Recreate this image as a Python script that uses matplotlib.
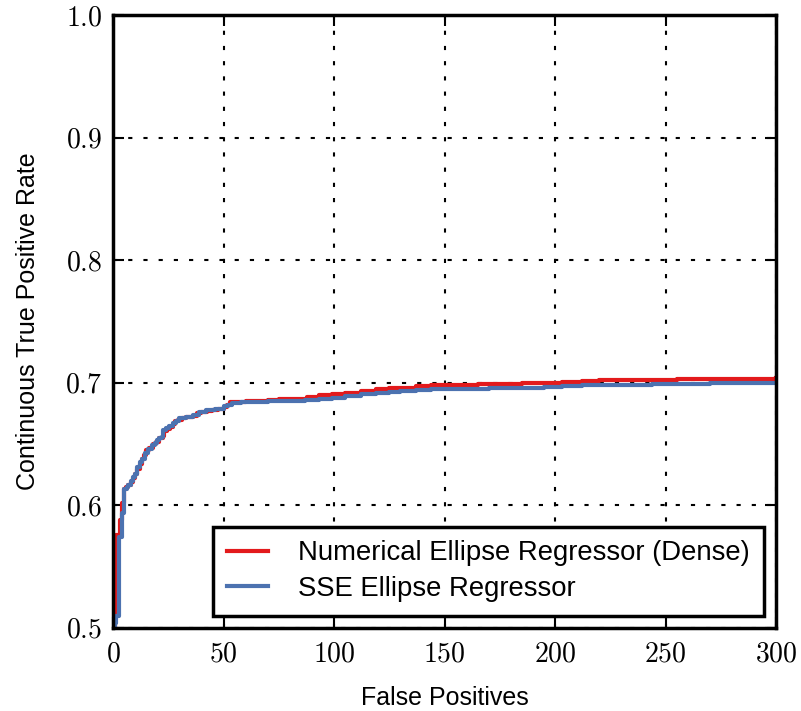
import matplotlib
matplotlib.use('Agg')
import matplotlib.pyplot as plt

plt.rcParams['mathtext.fontset'] = 'cm'
plt.rcParams['font.family'] = ['Liberation Sans', 'DejaVu Sans']

# Numerical Ellipse Regressor (Dense)
fp_dense = [0, 1.0, 1.5, 3, 4, 5, 6, 7, 8, 9, 10, 11, 12, 13, 14, 15, 16.5, 18,
            19.5, 21, 22.5, 23, 24.5, 26, 27, 28, 29.5, 31, 33, 36, 38, 40, 42.5,
            45, 47.5, 50, 51.5, 53, 56, 60, 65, 70, 75, 80, 88, 93, 99, 105, 112,
            119, 125, 130, 137, 144, 150, 158, 165, 175, 185, 195, 203, 212, 220,
            230, 244, 255, 270, 285, 300]
tpr_dense = [0.500, 0.524, 0.576, 0.588, 0.602, 0.613, 0.615, 0.617, 0.619, 0.622,
             0.626, 0.630, 0.634, 0.638, 0.641, 0.645, 0.647, 0.650, 0.652, 0.655,
             0.657, 0.661, 0.662, 0.664, 0.666, 0.669, 0.670, 0.671, 0.672, 0.673,
             0.675, 0.676, 0.677, 0.678, 0.679, 0.680, 0.682, 0.684, 0.6845, 0.685,
             0.6855, 0.686, 0.6865, 0.687, 0.6885, 0.690, 0.6905, 0.6915, 0.6932,
             0.6948, 0.6955, 0.696, 0.697, 0.6979, 0.6982, 0.6985, 0.6988, 0.699,
             0.6995, 0.700, 0.7008, 0.7018, 0.702, 0.7022, 0.7025, 0.7028, 0.7032,
             0.7035, 0.7038]

# SSE Ellipse Regressor
fp_sse = [0, 0.7, 1.5, 2.7, 4, 5, 6.2, 7, 8, 9, 10, 11, 12, 13, 14.5, 16, 17.5, 19,
          20, 21, 22, 22.8, 24, 25.5, 27, 28.5, 30, 33, 36, 39, 42, 46, 50, 52, 54,
          58, 62, 70, 80, 87, 93, 99, 105, 112, 119, 125, 130, 137, 144, 155, 170,
          183, 195, 203, 212, 225, 235, 244, 258, 270, 285, 300]
tpr_sse = [0.500, 0.504, 0.510, 0.5745, 0.594, 0.613, 0.615, 0.617, 0.620, 0.623,
           0.626, 0.631, 0.635, 0.638, 0.643, 0.646, 0.649, 0.651, 0.653, 0.655,
           0.656, 0.6615, 0.663, 0.665, 0.667, 0.669, 0.671, 0.672, 0.6737, 0.676,
           0.678, 0.679, 0.681, 0.682, 0.6835, 0.684, 0.6845, 0.685, 0.6855, 0.686,
           0.6871, 0.688, 0.689, 0.6905, 0.6917, 0.6925, 0.693, 0.694, 0.6948,
           0.6952, 0.6955, 0.696, 0.6963, 0.697, 0.6979, 0.6982, 0.6985, 0.6988,
           0.6992, 0.6995, 0.6998, 0.7002]

x_ticks = [0, 50, 100, 150, 200, 250, 300]
y_ticks = [0.5, 0.6, 0.7, 0.8, 0.9, 1.0]

fig = plt.figure(figsize=(8.01, 7.11), dpi=100)
ax = fig.add_axes([113 / 801, 83 / 711, 663 / 801, 613 / 711])

ax.plot(fp_dense, tpr_dense, drawstyle='steps-post', color='#e31a1c', lw=3,
        label='Numerical Ellipse Regressor (Dense)')
ax.plot(fp_sse, tpr_sse, drawstyle='steps-post', color='#4c72b0', lw=3,
        label='SSE Ellipse Regressor')

ax.set_xlim(0, 300)
ax.set_ylim(0.5, 1.0)
ax.set_xticks(x_ticks)
ax.set_yticks(y_ticks)
ax.set_xticklabels(['$%d$' % v for v in x_ticks], fontsize=20)
ax.set_yticklabels(['$%.1f$' % v for v in y_ticks], fontsize=20)
ax.tick_params(direction='in', length=8, width=1.5, top=True, right=True)
ax.tick_params(axis='x', pad=10)
ax.tick_params(axis='y', pad=8)

ax.grid(True, color='black', linestyle=(0, (2, 5.3)), linewidth=1.5)
ax.set_axisbelow(True)
for s in ax.spines.values():
    s.set_linewidth(2.5)

ax.set_xlabel('False Positives', fontsize=18, labelpad=13)
ax.set_ylabel('Continuous True Positive Rate', fontsize=18, labelpad=18)

leg = ax.legend(loc='lower right', fontsize=19.8, fancybox=False, edgecolor='black',
                framealpha=1, handlelength=1.5, handletextpad=1.1,
                borderaxespad=0.45, borderpad=0.5, labelspacing=0.35)
leg.get_frame().set_linewidth(2.5)
for line in leg.get_lines():
    line.set_linewidth(3)

fig.savefig('out.png', dpi=100)
